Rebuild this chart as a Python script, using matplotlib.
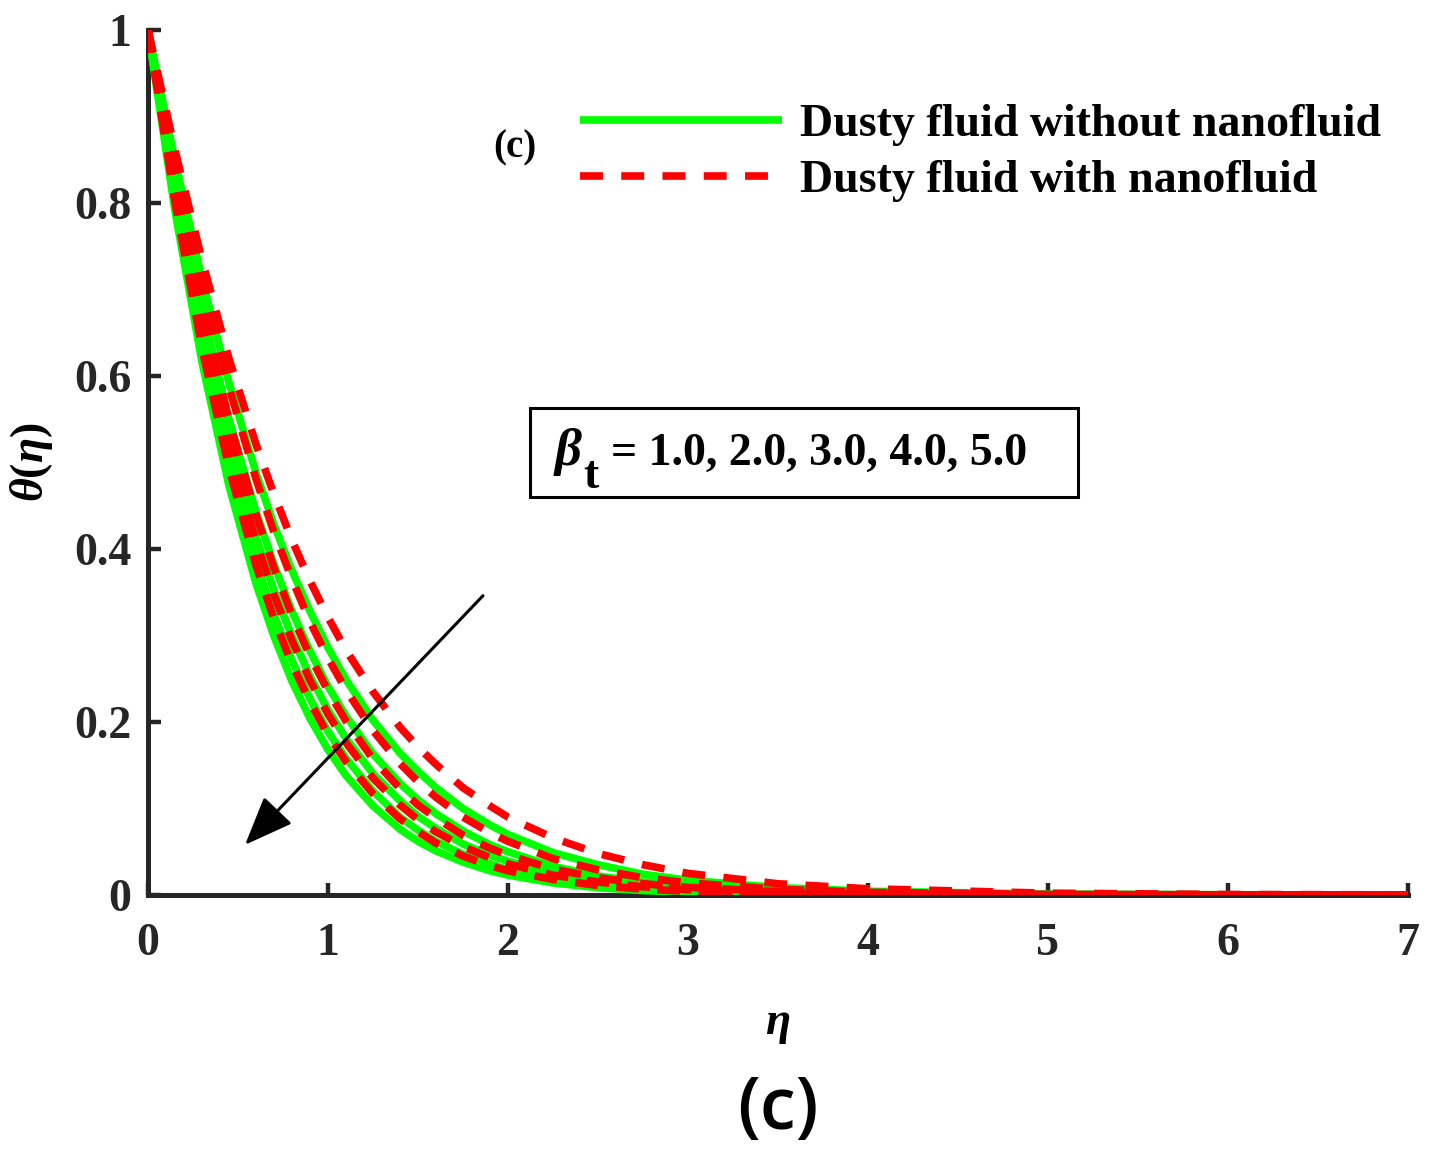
import matplotlib
matplotlib.use("Agg")
import matplotlib.pyplot as plt
from matplotlib.patches import Rectangle

plt.rcParams["font.family"] = ["Liberation Serif", "DejaVu Serif"]
plt.rcParams["font.weight"] = "bold"
plt.rcParams["mathtext.fontset"] = "custom"
plt.rcParams["mathtext.rm"] = "Liberation Serif:bold"
plt.rcParams["mathtext.bf"] = "Liberation Serif:bold"
plt.rcParams["mathtext.it"] = "Liberation Serif:bold:italic"

# values
eta = [0, 0.15, 0.3, 0.45, 0.6, 0.7, 0.8, 0.9, 1.0, 1.1, 1.25, 1.4, 1.5,
       1.6, 1.75, 1.9, 2.0, 2.25, 2.5, 2.75, 3.0, 3.5, 4.0, 5.0, 6.0, 7.0]

# dusty fluid without nanofluid, beta_t = 1..5
theta_plain = [
    [1, 0.849, 0.712, 0.592, 0.488, 0.428, 0.375, 0.328, 0.286, 0.249,
     0.202, 0.164, 0.143, 0.124, 0.100, 0.081, 0.070, 0.049, 0.035, 0.024,
     0.017, 0.0086, 0.0043, 0.0011, 0.0003, 0.0001],
    [1, 0.829, 0.679, 0.550, 0.443, 0.382, 0.328, 0.282, 0.241, 0.207,
     0.163, 0.129, 0.110, 0.094, 0.074, 0.058, 0.050, 0.033, 0.022, 0.015,
     0.010, 0.0046, 0.0021, 0.0004, 0.0001, 0.0],
    [1, 0.816, 0.657, 0.524, 0.414, 0.352, 0.299, 0.253, 0.214, 0.181,
     0.140, 0.109, 0.091, 0.077, 0.059, 0.046, 0.039, 0.025, 0.016, 0.0105,
     0.0069, 0.0029, 0.0012, 0.0002, 0.0, 0.0],
    [1, 0.804, 0.636, 0.497, 0.385, 0.324, 0.271, 0.227, 0.189, 0.158,
     0.120, 0.090, 0.075, 0.062, 0.047, 0.036, 0.029, 0.018, 0.012, 0.0072,
     0.0045, 0.0018, 0.0007, 0.0001, 0.0, 0.0],
    [1, 0.791, 0.616, 0.473, 0.360, 0.299, 0.247, 0.204, 0.168, 0.138,
     0.103, 0.076, 0.062, 0.051, 0.038, 0.028, 0.023, 0.014, 0.0084, 0.0051,
     0.0031, 0.0011, 0.0004, 0.0001, 0.0, 0.0],
]

# dusty fluid with nanofluid, beta_t = 1..5
theta_nano = [
    [1, 0.861, 0.734, 0.620, 0.521, 0.463, 0.410, 0.363, 0.321, 0.283,
     0.235, 0.194, 0.171, 0.151, 0.124, 0.103, 0.090, 0.066, 0.048, 0.035,
     0.025, 0.013, 0.0072, 0.0021, 0.0006, 0.0002],
    [1, 0.849, 0.711, 0.587, 0.481, 0.419, 0.365, 0.316, 0.274, 0.237,
     0.190, 0.152, 0.131, 0.113, 0.090, 0.072, 0.062, 0.042, 0.029, 0.020,
     0.014, 0.0065, 0.0031, 0.0007, 0.0002, 0.0],
    [1, 0.830, 0.679, 0.549, 0.440, 0.378, 0.323, 0.276, 0.236, 0.201,
     0.157, 0.123, 0.104, 0.089, 0.069, 0.054, 0.046, 0.030, 0.020, 0.013,
     0.0088, 0.0039, 0.0017, 0.0003, 0.0001, 0.0],
    [1, 0.816, 0.655, 0.520, 0.409, 0.347, 0.294, 0.248, 0.209, 0.176,
     0.135, 0.104, 0.087, 0.073, 0.056, 0.043, 0.036, 0.023, 0.015, 0.0095,
     0.0061, 0.0025, 0.0011, 0.0002, 0.0, 0.0],
    [1, 0.801, 0.632, 0.493, 0.381, 0.319, 0.267, 0.223, 0.185, 0.154,
     0.117, 0.088, 0.073, 0.060, 0.045, 0.034, 0.028, 0.018, 0.011, 0.0068,
     0.0043, 0.0017, 0.0007, 0.0001, 0.0, 0.0],
]

x_ticks = [0, 1, 2, 3, 4, 5, 6, 7]
y_ticks = [0, 0.2, 0.4, 0.6, 0.8, 1]
y_ticklabels = ["0", "0.2", "0.4", "0.6", "0.8", "1"]
legend_labels = ["Dusty fluid without nanofluid", "Dusty fluid with nanofluid"]
param_values = "= 1.0, 2.0, 3.0, 4.0, 5.0"

axis_color = "#262626"

fig = plt.figure(figsize=(14.31, 11.7), dpi=100)
ax = fig.add_axes([148 / 1431, 275 / 1170, 1260 / 1431, 865 / 1170])

for i, th in enumerate(theta_plain):
    ax.plot(eta, th, color="#00ff00", lw=5.5, solid_capstyle="butt",
            solid_joinstyle="round",
            label=legend_labels[0] if i == 0 else None, zorder=2)
for i, th in enumerate(theta_nano):
    ax.plot(eta, th, color="#ff0000", lw=5.5, ls=(0, (3.0, 2.4)),
            dash_capstyle="butt",
            label=legend_labels[1] if i == 0 else None, zorder=3)

ax.set_xlim(0, 7)
ax.set_ylim(0, 1)
ax.set_xticks(x_ticks)
ax.set_yticks(y_ticks)
ax.set_yticklabels(y_ticklabels)

for side in ("top", "right"):
    ax.spines[side].set_visible(False)
for side in ("left", "bottom"):
    ax.spines[side].set_linewidth(3.6)
    ax.spines[side].set_color(axis_color)
    ax.spines[side].set_zorder(1)

ax.tick_params(direction="in", length=9, width=3.2, colors=axis_color,
               labelsize=33)
ax.tick_params(axis="x", pad=20)
ax.tick_params(axis="y", pad=12)

ax.set_xlabel(r"$\eta$", fontsize=33, labelpad=28)
ax.set_ylabel(r"$\theta(\eta)$", fontsize=33, labelpad=14)

ax.legend(loc="upper left", bbox_to_anchor=(0.343, 0.914),
          frameon=False, fontsize=33, handlelength=4.4,
          handletextpad=0.4, labelspacing=0.3, borderpad=0,
          borderaxespad=0)

ax.text(0.291, 0.864, "(c)", transform=ax.transAxes, fontsize=28,
        ha="center", va="center")

# parameter box
ax.add_patch(Rectangle((0.3032, 0.4601), 0.4349, 0.1029,
                       transform=ax.transAxes, fill=False, lw=2.2,
                       edgecolor="black", zorder=5))
ax.text(0.3214, 0.497, r"$\beta$", transform=ax.transAxes, fontsize=38,
        ha="left", va="baseline", zorder=6)
ax.text(0.3455, 0.470, "t", transform=ax.transAxes, fontsize=33,
        ha="left", va="baseline", zorder=6)
ax.text(0.3675, 0.497, param_values, transform=ax.transAxes, fontsize=33,
        ha="left", va="baseline", zorder=6)

ax.annotate("", xy=(0.539, 0.058), xytext=(1.861, 0.346),
            arrowprops=dict(arrowstyle="-|>,head_length=0.55,head_width=0.22",
                            mutation_scale=55, lw=2.2, color="black",
                            shrinkA=0, shrinkB=0), zorder=6)

fig.text(778 / 1431, 1 - 1110 / 1170, "(c)", fontsize=52,
         family="Open Sans", fontweight="semibold", ha="center", va="center")

fig.savefig("out.png", dpi=100)
